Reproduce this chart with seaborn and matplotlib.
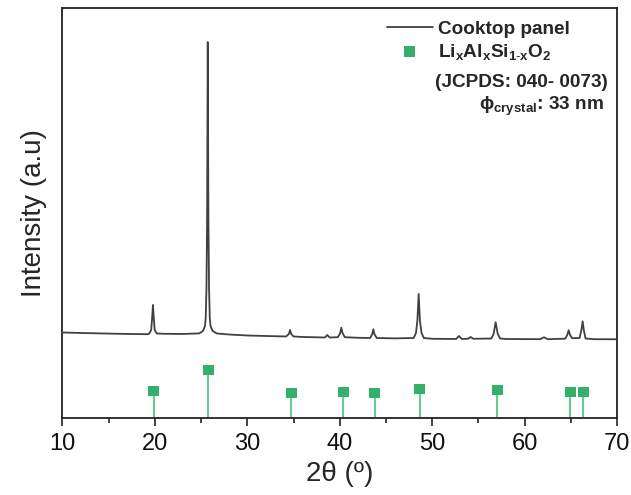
import matplotlib
matplotlib.use("Agg")
import matplotlib.pyplot as plt
import seaborn as sns
import pandas as pd
from matplotlib.ticker import MultipleLocator

# ---------------- data ----------------
two_theta = [10, 12, 14, 16, 18, 19.3, 19.4, 19.6, 19.7, 19.79, 19.88, 19.98, 20.2,
             21, 23, 24.8, 25.2, 25.42, 25.5, 25.58, 25.65, 25.72, 25.79, 25.86, 25.94,
             26.02, 26.25, 26.7, 28, 30, 32, 34.2, 34.5, 34.62, 34.75, 35.0, 36, 38.4,
             38.65, 38.9, 39.8, 40.05, 40.17, 40.3, 40.55, 42, 43.3, 43.52, 43.63, 43.75,
             44.0, 46, 48.0, 48.25, 48.4, 48.54, 48.68, 48.85, 49.1, 50, 52.6, 52.9, 53.2,
             53.9, 54.17, 54.45, 56.4, 56.65, 56.76, 56.87, 56.98, 57.1, 57.35, 58, 61.7,
             62.1, 62.5, 64.4, 64.62, 64.77, 64.92, 65.15, 65.95, 66.15, 66.28, 66.41,
             66.6, 67.5, 70]
intensity = [85.5, 85.0, 84.6, 84.2, 83.9, 83.8, 84.6, 88, 100, 113, 100, 88, 84.5,
             84.2, 84.0, 84.6, 87, 92, 100, 130, 200, 376, 200, 130, 100,
             92, 87, 84.5, 83.5, 82.5, 82.0, 81.5, 84, 88, 84, 81.5, 81, 80.5,
             83, 80.5, 80.8, 85, 90.3, 85, 80.8, 80.2, 80.0, 84, 88.7, 84,
             80.0, 79.6, 80.0, 85, 97, 124, 97, 85, 80.0, 79.2, 79.0, 82, 79.0,
             79.3, 81, 79.2, 79.5, 84, 90, 95.7, 90, 84, 79.5, 79.0, 78.8,
             80.7, 78.8, 79.3, 83, 87.7, 83, 79.8, 80.0, 88, 96.7, 88,
             79.5, 78.8, 78.7]

ref_pos = [19.89, 25.77, 34.75, 40.38, 43.77, 48.65, 57.05, 64.95, 66.33]
ref_int = [27, 48, 25, 26, 25, 29, 28, 26, 26]

# ---------------- style ----------------
sns.set_style("ticks")
plt.rcParams["font.family"] = ["Liberation Sans", "DejaVu Sans"]
plt.rcParams["mathtext.fontset"] = "custom"
plt.rcParams["mathtext.rm"] = "Liberation Sans"
plt.rcParams["mathtext.bf"] = "Liberation Sans:bold"
plt.rcParams["mathtext.it"] = "Liberation Sans:italic"

fig = plt.figure(figsize=(6.31, 4.95), dpi=100)
ax = fig.add_axes([0.099, 0.1556, 0.8788, 0.8292])

spec = pd.DataFrame({"two_theta": two_theta, "intensity": intensity})
ref = pd.DataFrame({"pos": ref_pos, "int": ref_int})

ax.vlines(ref["pos"], 0, ref["int"], color="#5ccf8a", lw=1.4, zorder=2)
sns.lineplot(data=spec, x="two_theta", y="intensity", ax=ax, sort=False,
             estimator=None, color="#404040", lw=1.3, label="Cooktop panel", zorder=3)
sns.scatterplot(data=ref, x="pos", y="int", ax=ax, marker="s", s=62,
                color="#35b06c", edgecolor="none", zorder=4,
                label=r"$\mathbf{Li_xAl_xSi_{1\text{-}x}O_2}$")

ax.set_xlim(10, 70)
ax.set_ylim(0, 410.5)
ax.xaxis.set_major_locator(MultipleLocator(10))
ax.xaxis.set_minor_locator(MultipleLocator(5))
ax.set_yticks([])
ax.tick_params(axis="x", which="major", direction="out", length=6, width=1.2,
               labelsize=17, color="#222222", labelcolor="#111111", pad=5)
ax.tick_params(axis="x", which="minor", direction="out", length=3.5, width=1.2,
               color="#222222")
for sp in ax.spines.values():
    sp.set_linewidth(1.3)
    sp.set_color("#222222")

ax.set_xlabel("2θ (º)", fontsize=20, labelpad=4)
ax.set_ylabel("Intensity (a.u)", fontsize=20, labelpad=11)

leg = ax.legend(loc="upper left", frameon=False, prop={"weight": "bold", "size": 13.7},
                handlelength=2.4, handletextpad=0.3, borderaxespad=0.0, borderpad=0.0,
                labelspacing=0.2, bbox_to_anchor=(0.585, 0.968))

ax.text(0.672, 0.817, "(JCPDS: 040- 0073)", transform=ax.transAxes,
        fontsize=13.7, fontweight="bold", ha="left", va="center")
ax.text(0.9766, 0.758, r"ϕ$_{\mathbf{crystal}}$: 33 nm", transform=ax.transAxes,
        fontsize=13.7, fontweight="bold", ha="right", va="center")

fig.savefig("out.png", dpi=100)
